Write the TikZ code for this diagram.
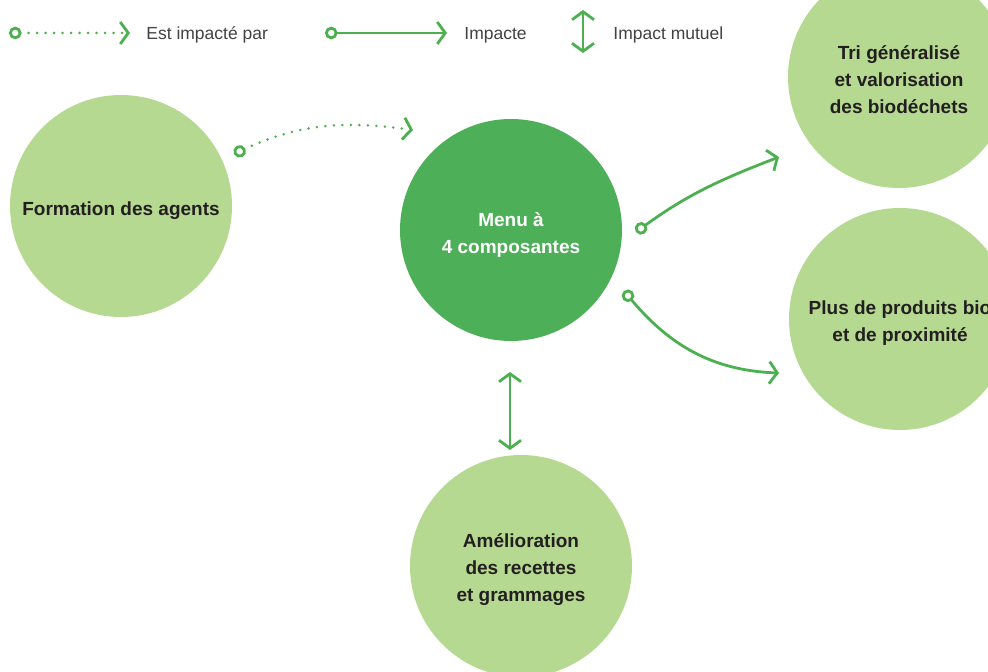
\documentclass[tikz,border=0pt]{standalone}
\usepackage{fontspec}
\setmainfont{Liberation Sans}
\usetikzlibrary{arrows.meta}
\definecolor{leaf}{HTML}{B5D991}
\definecolor{menugreen}{HTML}{4DAF57}
\definecolor{linegreen}{HTML}{4CAF50}
\definecolor{ink}{HTML}{231F20}

\begin{document}
\begin{tikzpicture}[x=1pt,y=1pt,line width=2.8pt,draw=linegreen]
  \tikzstyle{bubble}=[circle,fill=leaf,minimum size=222pt,inner sep=0pt]
  \tikzstyle{caption}=[text=ink,align=center,inner sep=0pt,font=\bfseries\fontsize{19}{27}\selectfont]
  \tikzstyle{impact}=[{Circle[fill=white,length=12.5pt,width=12.5pt]}-{Straight Barb[length=8pt,width=22pt]}]
  \tikzstyle{impacted}=[impact,line cap=round,dash pattern=on 0pt off 8.5pt]
  \tikzstyle{mutual}=[{Straight Barb[length=8pt,width=22pt]}-{Straight Barb[length=8pt,width=22pt]}]
  \tikzstyle{legend}=[anchor=west,text=ink!85,font=\fontsize{17.5}{20}\selectfont,inner sep=0pt]

  \useasboundingbox (0,0) rectangle (988,672);

  % legend
  \coordinate (l1a) at (9,639);
  \coordinate (l1b) at (130,639);
  \draw[impacted] (l1a) -- (l1b);
  \node[legend] (l1t) at (145,637) {Est impacté par};

  \coordinate (l2a) at (325,639);
  \coordinate (l2b) at (447,639);
  \draw[impact] (l2a) -- (l2b);
  \node[legend] (l2t) at (463,637) {Impacte};

  \coordinate (l3a) at (583,662);
  \coordinate (l3b) at (583,619);
  \draw[mutual] (l3a) -- (l3b);
  \node[legend] (l3t) at (612,637) {Impact mutuel};

  % bubbles
  \node[bubble] (form) at (121,466) {};
  \node[bubble,fill=menugreen] (menu) at (511,442) {};
  \node[bubble] (tri) at (899,595) {};
  \node[bubble] (bio) at (900,353) {};
  \node[bubble] (amel) at (521,106) {};

  \node[caption] (form-txt) at ([yshift=-5pt]form) {Formation des agents};
  \node[caption,text=white] (menu-txt) at ([yshift=-5pt]menu) {Menu à\\4 composantes};
  \node[caption] (tri-txt) at ([yshift=-3pt]tri) {Tri généralisé\\et valorisation\\des biodéchets};
  \node[caption] (bio-txt) at ([yshift=-4pt]bio) {Plus de produits bio\\et de proximité};
  \node[caption] (amel-txt) at ([yshift=-4pt]amel) {Amélioration\\des recettes\\et grammages};

  % connectors
  \coordinate (form-out) at (234,518);
  \coordinate (menu-in) at (413,542);
  \coordinate (menu-out1) at (636,440);
  \coordinate (tri-in) at (779,515);
  \coordinate (menu-out2) at (624,381);
  \coordinate (bio-in) at (779,299);
  \coordinate (menu-dn) at (510,300);
  \coordinate (amel-up) at (510,222);

  \draw[impacted] (form-out) to[out=25,in=172] (menu-in);
  \draw[impact] (menu-out1) to[out=36,in=-159] (tri-in);
  \draw[impact] (menu-out2) to[out=-50,in=178] (bio-in);
  \draw[mutual] (menu-dn) -- (amel-up);

\end{tikzpicture}
\end{document}
